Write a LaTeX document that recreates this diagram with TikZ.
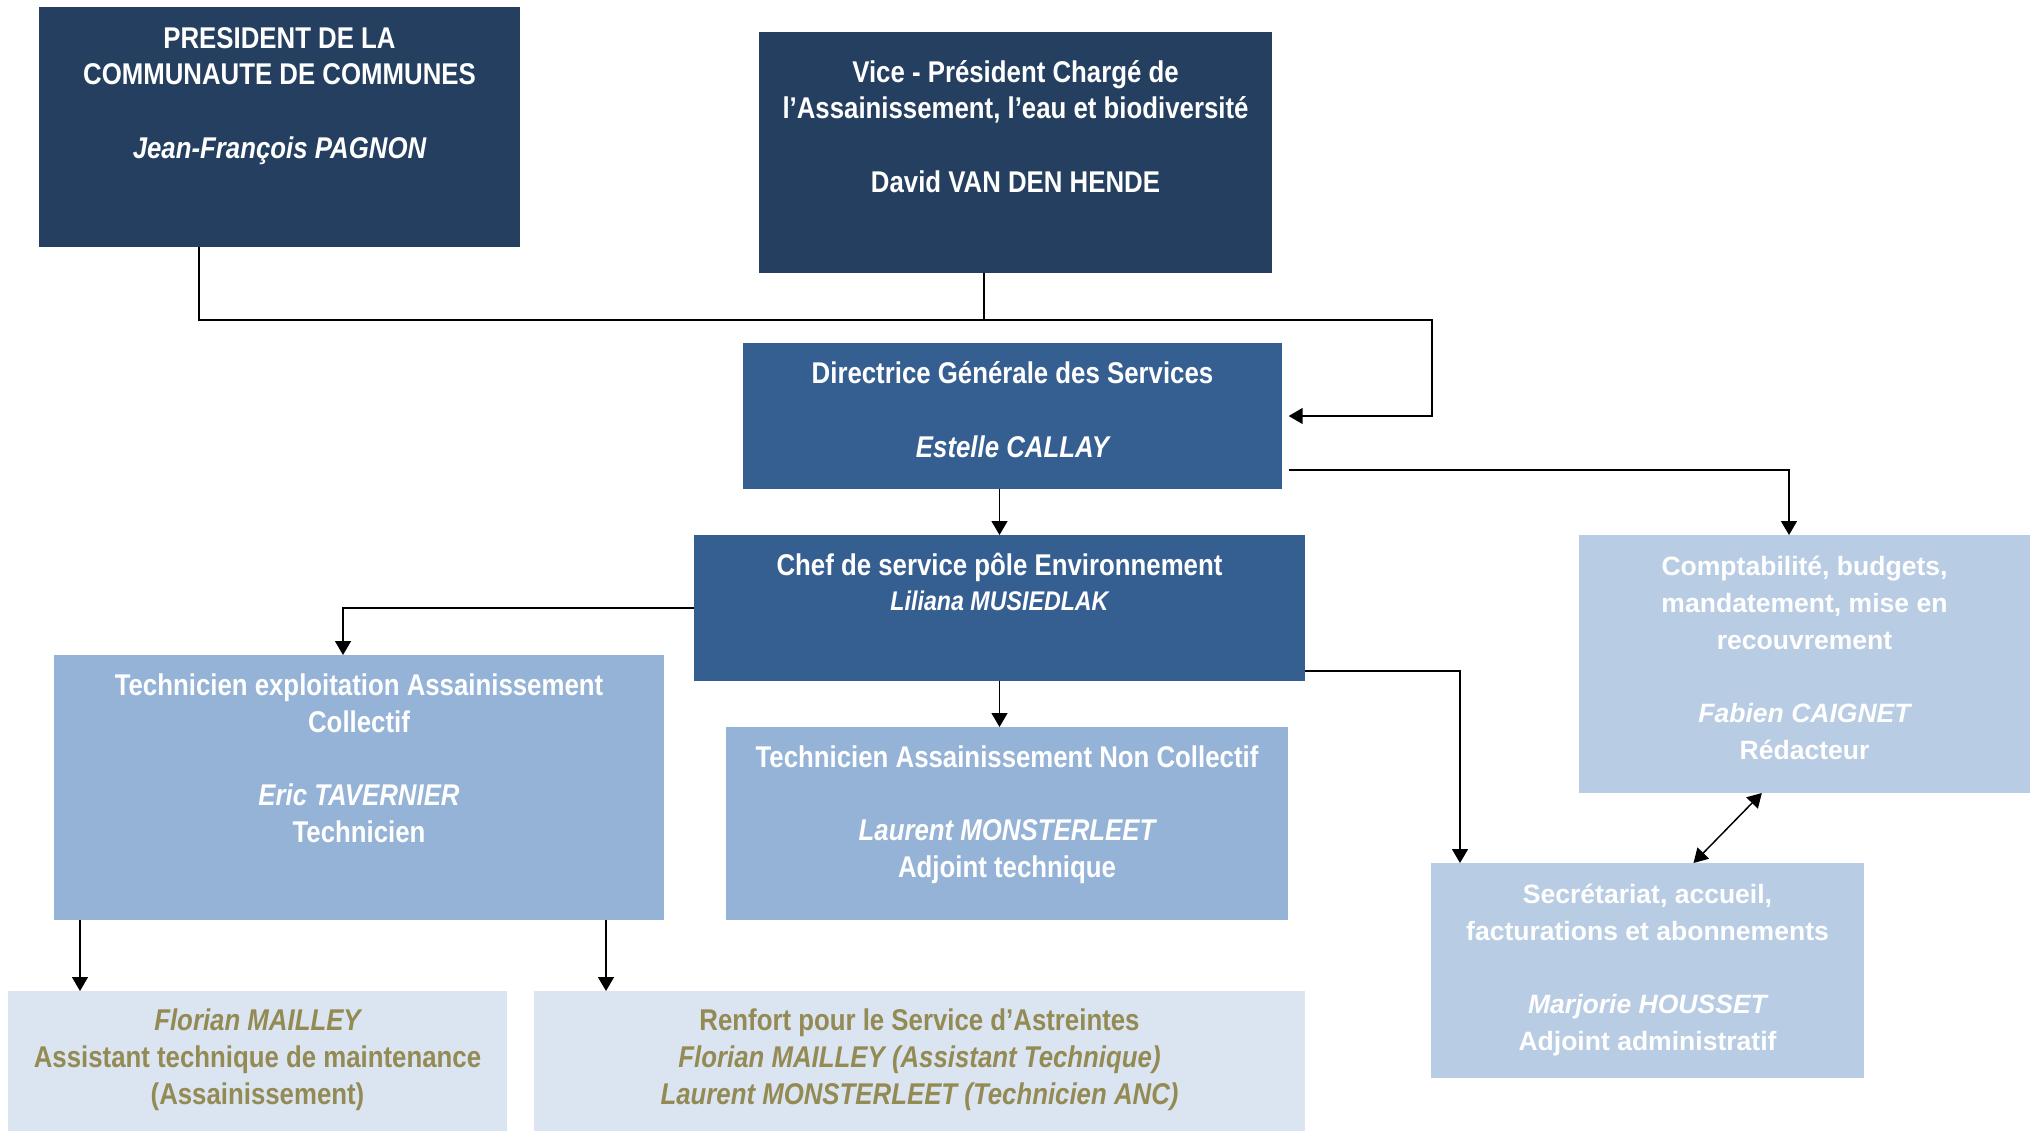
\documentclass[tikz,border=0pt]{standalone}
\usepackage{fontspec}
\setmainfont{Liberation Sans}
\newfontfamily\narrowfont{Liberation Sans}[FakeStretch=0.86]
\usetikzlibrary{arrows.meta}
\definecolor{navy}{HTML}{243F60}
\definecolor{midblue}{HTML}{365F91}
\definecolor{lightblue}{HTML}{95B3D7}
\definecolor{paleblue}{HTML}{B8CCE4}
\definecolor{mistblue}{HTML}{DBE5F1}
\definecolor{olive}{HTML}{948A54}
\tikzset{
  orgbox/.style n args={3}{rectangle, fill=#1, inner sep=0pt, outer sep=0pt,
    anchor=north west, minimum width=#2*0.75pt, minimum height=#3*0.75pt},
  boxtext/.style={anchor=base, inner sep=0pt, align=center, text=white,
    font=\narrowfont\bfseries\fontsize{22.5}{27.5}\selectfont},
  widetext/.style={boxtext, font=\bfseries\fontsize{19.9}{27.5}\selectfont},
  link/.style={line width=1.1pt},
  arrowlink/.style={link, -{Triangle[length=10.5pt,width=12pt]}},
  twowaylink/.style={link, {Triangle[length=10.5pt,width=12pt]}-{Triangle[length=10.5pt,width=12pt]}}
}

\begin{document}
\begin{tikzpicture}[x=0.75pt, y=-0.75pt]
			%%%%% START %%%%%
			\useasboundingbox[fill=white] (0,0) rectangle (2040,1131);
			
			\node[orgbox={navy}{481}{240}] (pres) at (39,7) {};
			\node[orgbox={navy}{513}{241}] (vp) at (759,32) {};
			\node[orgbox={midblue}{539}{146}] (dgs) at (743,343) {};
			\node[orgbox={midblue}{611}{146}] (chef) at (694,535) {};
			\node[orgbox={lightblue}{610}{265}] (teac) at (54,655) {};
			\node[orgbox={lightblue}{562}{193}] (tanc) at (726,727) {};
			\node[orgbox={paleblue}{451}{258}] (compta) at (1579,535) {};
			\node[orgbox={paleblue}{433}{215}] (secr) at (1431,863) {};
			\node[orgbox={mistblue}{499}{140}] (florian) at (8,991) {};
			\node[orgbox={mistblue}{771}{140}] (renfort) at (534,991) {};
			
			% texts sit on the baseline of their last line
			\node[boxtext] (pres-txt) at (279.5,158) {PRESIDENT DE LA\\COMMUNAUTE DE COMMUNES\\[27.5pt]\itshape Jean-François PAGNON};
			\node[boxtext] (vp-txt) at (1015.5,192) {Vice - Président Chargé de\\l’Assainissement, l’eau et biodiversité\\[27.5pt]David VAN DEN HENDE};
			\node[boxtext] (dgs-txt) at (1012.5,457) {Directrice Générale des Services\\[27.5pt]\itshape Estelle CALLAY};
			\node[boxtext] (chef-txt) at (999.5,610) {Chef de service pôle Environnement\\[-1.25pt]\fontsize{20.25}{27.5}\selectfont\itshape Liliana MUSIEDLAK};
			\node[boxtext] (teac-txt) at (359,842) {Technicien exploitation Assainissement\\Collectif\\[27.5pt]\itshape Eric TAVERNIER\\Technicien};
			\node[boxtext] (tanc-txt) at (1007,877) {Technicien Assainissement Non Collectif\\[27.5pt]\itshape Laurent MONSTERLEET\\Adjoint technique};
			\node[widetext] (compta-txt) at (1804.5,759) {Comptabilité, budgets,\\mandatement, mise en\\recouvrement\\[27.5pt]\itshape Fabien CAIGNET\\Rédacteur};
			\node[widetext] (secr-txt) at (1647.5,1050) {Secrétariat, accueil,\\facturations et abonnements\\[27.5pt]\itshape Marjorie HOUSSET\\Adjoint administratif};
			\node[boxtext, text=olive] (florian-txt) at (257.5,1104) {\itshape Florian MAILLEY\\Assistant technique de maintenance\\(Assainissement)};
			\node[boxtext, text=olive] (renfort-txt) at (919.5,1104) {Renfort pour le Service d’Astreintes\\\itshape Florian MAILLEY (Assistant Technique)\\\itshape Laurent MONSTERLEET (Technicien ANC)};
			
			\coordinate (presfoot) at (199,320);
			\coordinate (vpfoot) at (984,320);
			\coordinate (bus) at (1432,320);
			\coordinate (cbend) at (1789,470);
			\coordinate (tbend) at (343,608);
			\coordinate (sbend) at (1460,671);
			\coordinate (fdrop) at (80,0);
			\coordinate (rdrop) at (606,0);
			
			\draw[arrowlink] (pres.south -| presfoot) -- (presfoot) -- (bus) |- ([xshift=5pt]dgs.east);
			\draw[link] (vp.south -| vpfoot) -- (vpfoot);
			\draw[arrowlink] (dgs.south -| chef.north) -- (chef.north);
			\draw[arrowlink] ([xshift=5pt]dgs.east |- cbend) -| (compta.north -| cbend);
			\draw[arrowlink] (chef.west |- tbend) -| (teac.north -| tbend);
			\draw[arrowlink] (chef.south) -- (chef.south |- tanc.north);
			\draw[arrowlink] (chef.east |- sbend) -| (secr.north -| sbend);
			\draw[twowaylink] ([xshift=34.5pt]secr.north) -- ([xshift=-32pt]compta.south);
			\draw[arrowlink] (teac.south -| fdrop) -- (florian.north -| fdrop);
			\draw[arrowlink] (teac.south -| rdrop) -- (renfort.north -| rdrop);
			
			%%%%% END %%%%%
\end{tikzpicture}
\end{document}
